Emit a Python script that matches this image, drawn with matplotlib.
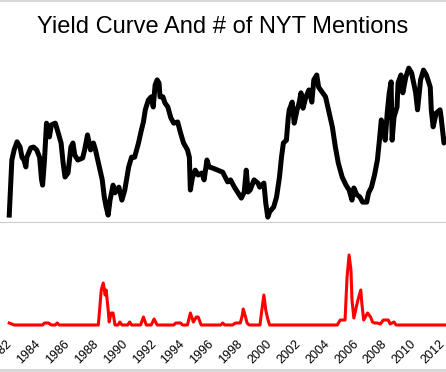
import numpy as np
import matplotlib.pyplot as plt
from matplotlib.patches import Rectangle

plt.rcParams['font.family'] = ['Liberation Sans', 'DejaVu Sans']

# 收益率曲线（长短端利差，%）
yc_year = [1982.64, 1982.82, 1982.98, 1983.18, 1983.39, 1983.52, 1983.66, 1983.79, 1983.86,
           1984.13, 1984.33, 1984.54, 1984.74, 1984.88, 1984.95, 1985.08, 1985.22, 1985.42,
           1985.56, 1985.83, 1986.03, 1986.23, 1986.37, 1986.50, 1986.71, 1986.91, 1987.05,
           1987.18, 1987.39, 1987.72, 1987.86, 1988.06, 1988.27, 1988.47, 1988.61, 1988.88,
           1989.08, 1989.22, 1989.35, 1989.49, 1989.62, 1989.83, 1989.96, 1990.23, 1990.44,
           1990.64, 1990.91, 1991.11, 1991.32, 1991.59, 1991.79, 1991.93, 1992.06, 1992.27,
           1992.47, 1992.61, 1992.74, 1992.88, 1993.01, 1993.08, 1993.28, 1993.42, 1993.62,
           1993.83, 1994.03, 1994.30, 1994.50, 1994.71, 1994.98, 1995.11, 1995.18, 1995.32,
           1995.52, 1995.72, 1995.98, 1996.13, 1996.33, 1996.47, 1996.74, 1997.08, 1997.42,
           1997.76, 1997.96, 1998.23, 1998.44, 1998.71, 1998.91, 1999.05, 1999.18, 1999.32,
           1999.59, 1999.86, 1999.98, 2000.27, 2000.40, 2000.54, 2000.67, 2000.95, 2001.15,
           2001.35, 2001.49, 2001.62, 2001.83, 2001.96, 2002.03, 2002.23, 2002.37, 2002.57,
           2002.71, 2002.84, 2002.98, 2003.18, 2003.39, 2003.59, 2003.73, 2003.93, 2004.06,
           2004.34, 2004.54, 2004.74, 2005.01, 2005.22, 2005.42, 2005.69, 2005.96, 2006.17,
           2006.37, 2006.50, 2006.71, 2006.91, 2007.11, 2007.39, 2007.52, 2007.72, 2007.93,
           2008.13, 2008.27, 2008.40, 2008.54, 2008.67, 2008.81, 2008.95, 2009.08, 2009.15,
           2009.28, 2009.49, 2009.56, 2009.76, 2009.89, 2010.10, 2010.30, 2010.50, 2010.78,
           2010.91, 2011.12, 2011.32, 2011.52, 2011.79, 2011.86, 2011.99, 2012.20, 2012.47,
           2012.54, 2012.74, 2012.88]
yc_spread = [0.17, 1.53, 1.78, 1.98, 1.85, 1.60, 1.53, 1.36, 1.60,
             1.83, 1.85, 1.78, 1.60, 1.04, 0.91, 1.53, 2.44, 2.10,
             2.40, 2.44, 2.20, 1.95, 1.46, 1.11, 1.21, 1.85, 1.95,
             1.65, 1.53, 1.58, 1.78, 2.15, 1.78, 1.95, 1.78, 1.36,
             1.04, 0.62, 0.37, 0.17, 0.54, 0.91, 0.72, 0.86, 0.54,
             0.79, 1.36, 1.60, 1.60, 1.95, 2.27, 2.47, 2.77, 3.01,
             3.09, 2.84, 3.38, 3.51, 3.43, 3.09, 3.09, 2.94, 2.84,
             2.57, 2.44, 2.47, 2.20, 1.95, 1.78, 1.60, 0.79, 1.09,
             1.28, 1.16, 1.21, 1.04, 1.53, 1.36, 1.33, 1.28, 1.23,
             0.99, 1.04, 0.86, 0.74, 0.59, 0.74, 1.28, 0.74, 0.79,
             1.04, 0.96, 0.86, 0.96, 0.47, 0.12, 0.25, 0.37, 0.62,
             1.11, 1.60, 1.95, 2.02, 2.59, 2.77, 2.96, 2.44, 2.77,
             2.94, 3.19, 2.81, 3.09, 3.26, 2.96, 3.51, 3.63, 3.33,
             3.19, 3.09, 2.77, 2.35, 1.85, 1.46, 1.11, 0.91, 0.79,
             0.54, 0.84, 0.67, 0.62, 0.49, 0.49, 0.72, 0.86, 1.16,
             1.53, 2.02, 2.52, 2.35, 2.02, 2.69, 3.19, 3.46, 2.02,
             2.59, 2.84, 3.43, 3.63, 3.19, 3.58, 3.80, 3.68, 3.19,
             2.77, 3.51, 3.75, 3.63, 3.33, 2.77, 2.35, 2.69, 2.77,
             2.59, 1.95, 2.02]

# 《纽约时报》提及次数
nyt_year = [1982.64, 1982.98, 1984.95, 1985.08, 1985.35, 1985.56, 1985.83, 1985.96, 1986.10,
            1988.81, 1989.01, 1989.15, 1989.28, 1989.35, 1989.49, 1989.56, 1989.69, 1989.83,
            1989.96, 1990.17, 1990.30, 1990.44, 1990.84, 1990.98, 1991.11, 1991.73, 1991.93,
            1992.13, 1992.47, 1992.67, 1992.88, 1994.03, 1994.17, 1994.50, 1994.64, 1994.98,
            1995.18, 1995.39, 1995.59, 1995.72, 1995.93, 1997.28, 1997.42, 1997.56, 1998.10,
            1998.30, 1998.64, 1998.78, 1998.84, 1998.98, 1999.11, 1999.25, 2000.00, 2000.13,
            2000.27, 2000.40, 2000.54, 2000.67, 2005.35, 2005.56, 2005.89, 2006.03, 2006.17,
            2006.30, 2006.37, 2006.50, 2006.78, 2006.98, 2007.05, 2007.18, 2007.45, 2007.66,
            2007.79, 2007.93, 2008.13, 2008.34, 2008.54, 2008.88, 2009.01, 2009.28, 2009.42,
            2012.88]
nyt_count = [0.4, 0.0, 0.0, 0.4, 0.4, 0.0, 0.0, 0.4, 0.0,
             0.0, 7.0, 8.4, 6.0, 7.0, 3.0, 0.6, 2.4, 2.4,
             0.0, 0.0, 0.6, 0.0, 0.0, 0.6, 0.0, 0.0, 1.6,
             0.0, 0.0, 1.2, 0.0, 0.0, 0.4, 0.4, 0.0, 0.0,
             2.4, 0.6, 1.6, 1.6, 0.0, 0.0, 0.4, 0.0, 0.0,
             0.4, 0.4, 2.0, 3.2, 1.8, 0.4, 0.0, 0.0, 3.0,
             6.0, 3.0, 1.2, 0.0, 0.0, 1.0, 1.0, 9.6, 14.0,
             11.0, 5.0, 1.4, 5.0, 7.0, 4.4, 1.0, 2.4, 1.6,
             0.6, 0.4, 0.4, 0.2, 1.0, 1.0, 0.2, 0.6, 0.0,
             0.0]

tick_years = list(range(1982, 2013, 2))
title = "Yield Curve And # of NYT Mentions"

fig = plt.figure(figsize=(4.46, 3.72), dpi=100)
ax = fig.add_axes([0, 42 / 372, 1, 270 / 372])
ax.set_xlim(1982.64, 2012.88)
ax.set_ylim(-2.667, 4.0)
ax.axhline(0, color="#cccccc", lw=0.8, zorder=1)
ax.plot(yc_year, yc_spread, color="black", lw=3.6, solid_joinstyle="round", zorder=3)

ax2 = ax.twinx()
ax2.set_ylim(-1, 53)
ax2.plot(nyt_year, nyt_count, color="red", lw=2.2, solid_joinstyle="round", zorder=3)

for a in (ax, ax2):
    for s in a.spines.values():
        s.set_visible(False)
    a.set_yticks([])

ax.set_xticks(tick_years)
ax.set_xticklabels([str(y) for y in tick_years], rotation=45, ha="center", va="top",
                   fontsize=9)
ax.tick_params(axis="x", length=0, pad=6)

fig.text(0.5, (372 - 33) / 372, title, ha="center", va="baseline", fontsize=17)

# 上下的浅灰边框
fig.add_artist(Rectangle((0, 1 - 1.5 / 372), 1, 1.5 / 372, transform=fig.transFigure,
                         color="#d8d8d8", lw=0))
fig.add_artist(Rectangle((0, 0), 1, 3 / 372, transform=fig.transFigure,
                         color="#d8d8d8", lw=0))

fig.savefig("out.png", dpi=100)
plt.close()
